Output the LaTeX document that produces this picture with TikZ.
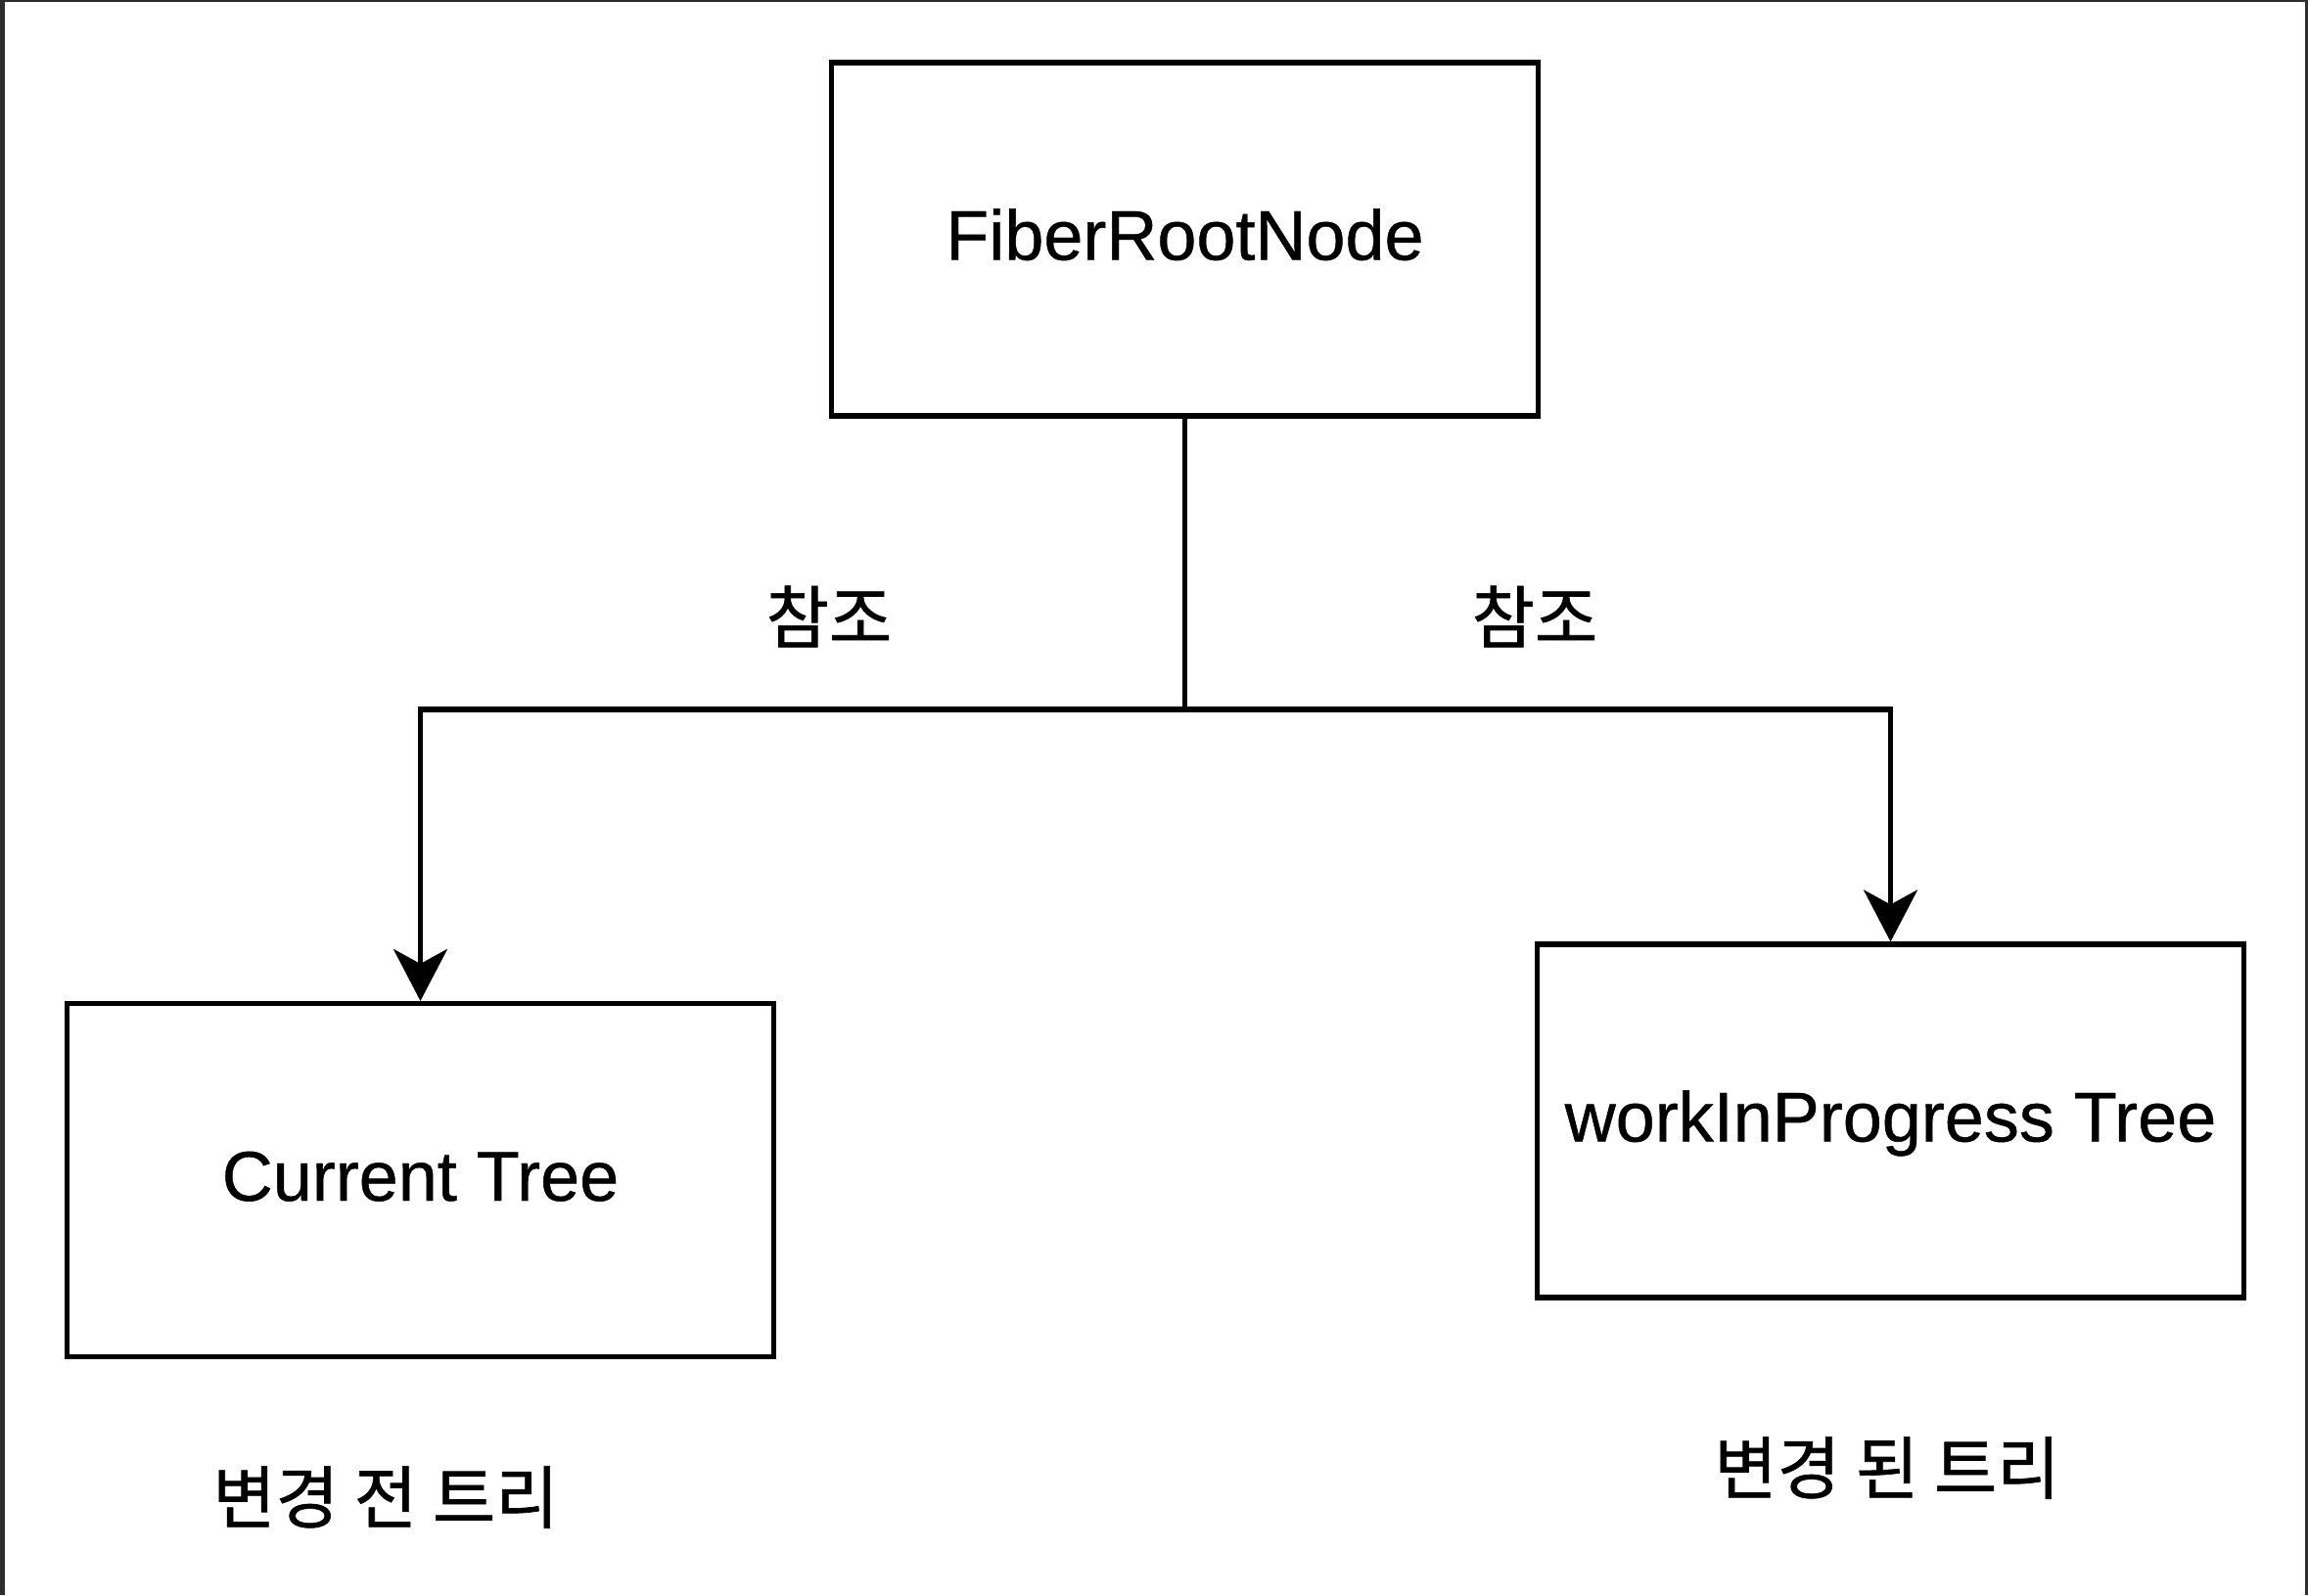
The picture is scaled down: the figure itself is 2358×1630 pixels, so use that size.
\documentclass[tikz,border=0pt]{standalone}
\usepackage{fontspec}
\setmainfont[FakeBold=0.6]{Liberation Sans}
\newfontfamily\kr[FakeBold=0.9]{Noto Sans CJK KR}
\usetikzlibrary{arrows.meta}
\definecolor{frame}{HTML}{2D2D2D}
\tikzset{
  box/.style={draw=black, line width=2.6pt, minimum width=361pt, minimum height=180.5pt,
    inner sep=0pt, font=\fontsize{36pt}{40pt}\selectfont, text height=25pt, text depth=4pt},
  wire/.style={draw=black, line width=2.6pt},
  arr/.style={wire, -{Stealth[length=26.5pt, width=27.5pt, inset=7.5pt]}},
  lbl/.style={inner sep=0pt, font=\kr\fontsize{35pt}{40pt}\selectfont}
}
\begin{document}
\begin{tikzpicture}[x=0.5pt, y=-0.5pt]
\useasboundingbox (0,0) rectangle (2358,1630);
\fill[white] (0,0) rectangle (2358,1630);
\fill[frame] (0,0) rectangle (5,1630);
\fill[frame] (0,0) rectangle (2358,1.5);
\fill[frame] (2355,0) rectangle (2358,1630);
\node[box] (root) at (1210.5,244.5) {FiberRootNode};
\node[box] (cur) at (429.5,1206) {Current Tree};
\node[box] (wip) at (1931.5,1145.5) {workInProgress Tree};
\coordinate (j) at (1210.5,725);
\draw[wire] (root.south) -- (j);
\draw[arr] (j) -| (cur.north);
\draw[arr] (j) -| (wip.north);
\node[lbl] (l1) at (847,630) {참조};
\node[lbl] (l2) at (1568,630) {참조};
\node[lbl] (t1) at (394,1530) {변경 전 트리};
\node[lbl] (t2) at (1928,1500) {변경 된 트리};
\end{tikzpicture}
\end{document}
